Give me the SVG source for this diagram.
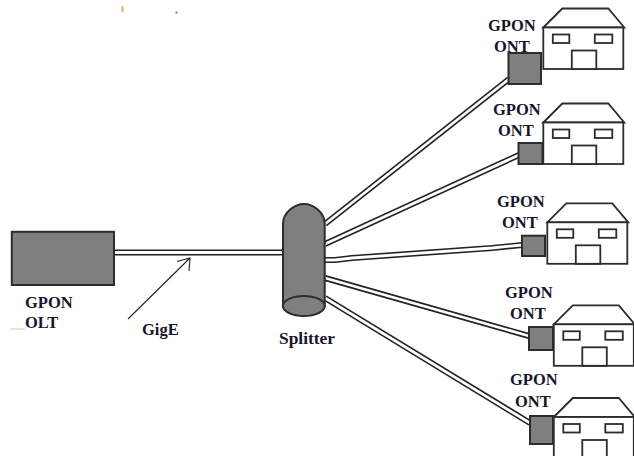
<svg xmlns="http://www.w3.org/2000/svg" width="634" height="456" viewBox="0 0 634 456">
<style>
.bg{fill:#fff}
.t{font-family:"Liberation Serif",serif;font-weight:bold;font-size:16.5px;fill:#16162a}
.box{fill:#7f7f7f;stroke:#2c2c2c;stroke-width:2}
.w{fill:#fff;stroke:#2c2c2c;stroke-width:1.8}
.co{fill:none;stroke:#222;stroke-width:6}
.ci{fill:none;stroke:#fff;stroke-width:2.800}
</style>
<defs>
<g id="house">
<path class="w" d="M0 19L19 0H65L81 19Z"/>
<rect class="w" x="0" y="19" width="80" height="41.500"/>
<rect class="w" x="9.500" y="26" width="16.500" height="8.500"/>
<rect class="w" x="51.500" y="26" width="17.500" height="8.500"/>
<rect class="w" x="28.500" y="42" width="24.500" height="18.500"/>
</g>
</defs>
<rect class="bg" width="634" height="456"/>
<rect x="121.500" y="6" width="2" height="6" fill="#f0b070"/>
<rect x="175.500" y="11.500" width="2" height="2" fill="#777"/>
<line x1="10" y1="329" x2="25" y2="329" stroke="#ccc" stroke-width="1"/>
<g id="connectors">
<polyline class="co" points="114,252.500 284,252.500"/>
<polyline class="co" points="325,224 509,79"/>
<polyline class="co" points="325,244 519,155"/>
<polyline class="co" points="325,260 335,260 352,258 492,248 522,245"/>
<polyline class="co" points="325,278 529,336"/>
<polyline class="co" points="325,298 530,423"/>
<polyline class="ci" points="114,252.500 284,252.500"/>
<polyline class="ci" points="325,224 509,79"/>
<polyline class="ci" points="325,244 519,155"/>
<polyline class="ci" points="325,260 335,260 352,258 492,248 522,245"/>
<polyline class="ci" points="325,278 529,336"/>
<polyline class="ci" points="325,298 530,423"/>
<path d="M128 319L190 258M177 261.500L190 258L189 271" fill="none" stroke="#222" stroke-width="1.100"/>
</g>
<g id="olt"><rect class="box" x="11.800" y="231.800" width="102.200" height="53.200"/><text class="t" x="25" y="308">GPON</text><text class="t" x="25" y="328">OLT</text></g>
<text class="t" x="142" y="335">GigE</text>
<g id="splitter">
<path class="box" d="M283 224C283 212 295 204 304 204C313 204 324.700 212 324.700 224V306A20.900 10 0 0 1 283 306Z"/>
<ellipse class="box" cx="303.800" cy="306" rx="20.900" ry="10"/>
<text class="t" style="font-size:17.400px" x="279" y="344">Splitter</text>
</g>
<g id="ont1"><text class="t" x="488" y="31">GPON</text><text class="t" x="494" y="52">ONT</text><rect class="box" x="508.500" y="53" width="32.500" height="31"/><use href="#house" x="543.300" y="8.500"/></g>
<g id="ont2"><text class="t" x="493" y="115">GPON</text><text class="t" x="498" y="136">ONT</text><use href="#house" x="543.300" y="103.500"/><rect class="box" x="518.500" y="143" width="24" height="21"/></g>
<g id="ont3"><text class="t" x="497" y="207">GPON</text><text class="t" x="502" y="228">ONT</text><rect class="box" x="522" y="235.700" width="23" height="20.300"/><use href="#house" x="547.300" y="203.300"/></g>
<g id="ont4"><text class="t" x="505" y="298">GPON</text><text class="t" x="510" y="319">ONT</text><rect class="box" x="529" y="327" width="24" height="23"/><use href="#house" x="553.800" y="305.300"/></g>
<g id="ont5"><text class="t" x="510" y="385">GPON</text><text class="t" x="515" y="407">ONT</text><rect class="box" x="530" y="416" width="23" height="28"/><use href="#house" x="553.800" y="398"/></g>
</svg>
